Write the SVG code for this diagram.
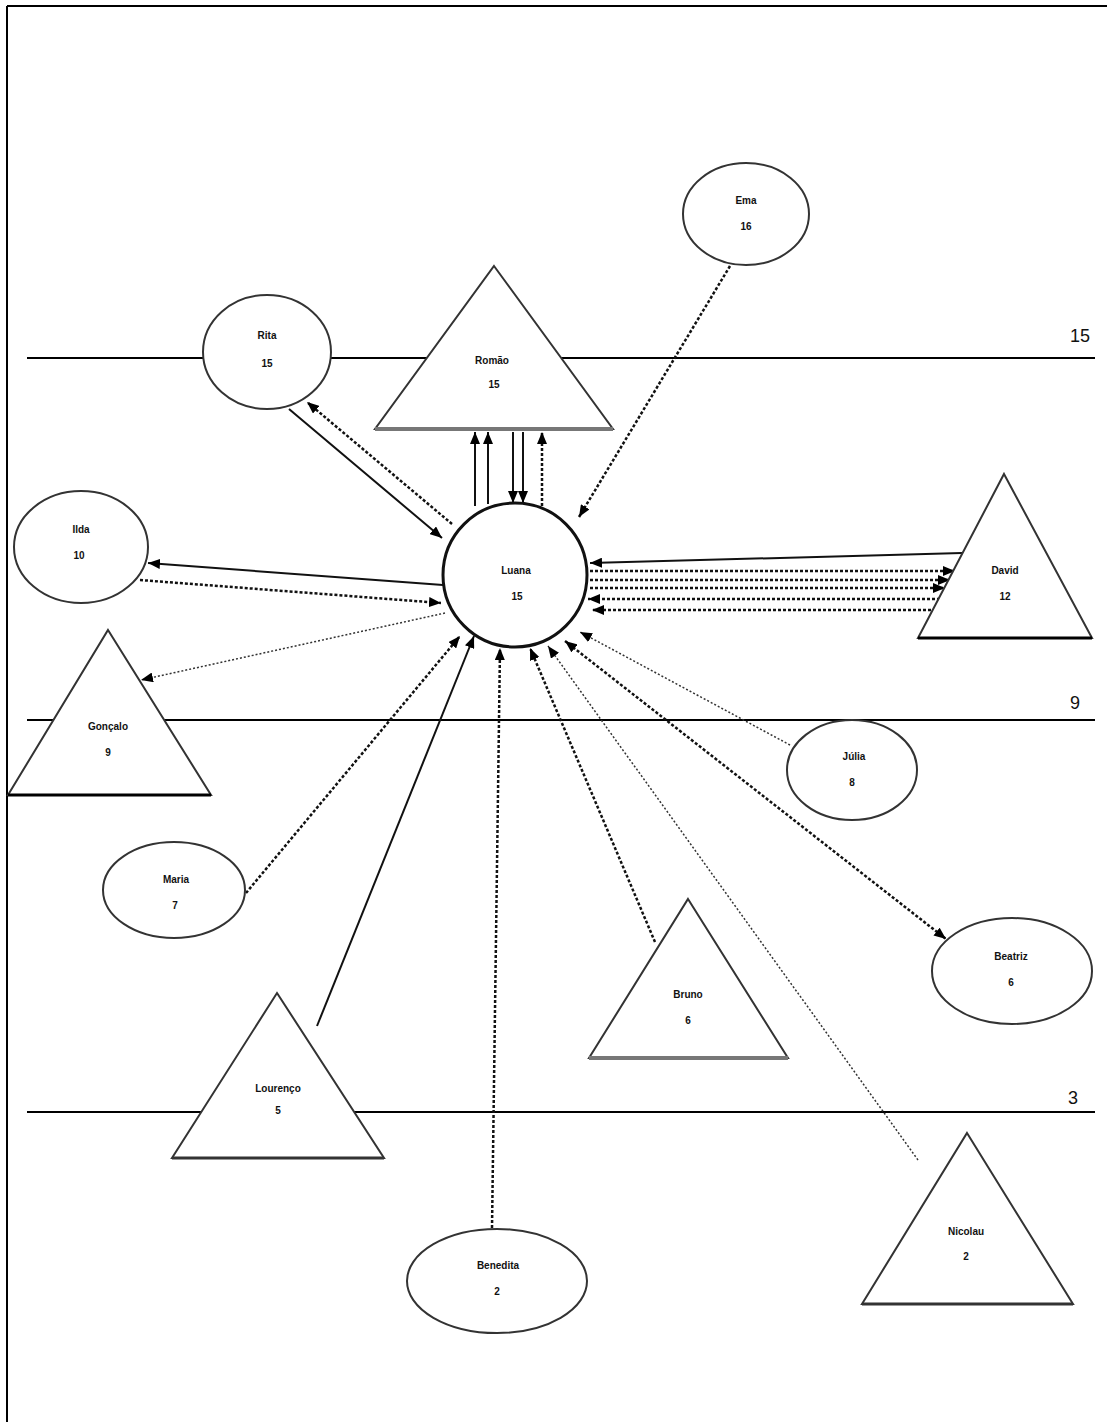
<svg xmlns="http://www.w3.org/2000/svg" width="1107" height="1422" viewBox="0 0 1107 1422">
<defs>
<marker id="ah" viewBox="0 0 12 10" refX="12" refY="5" markerWidth="12" markerHeight="10" markerUnits="userSpaceOnUse" orient="auto-start-reverse">
<path d="M0,0 L12,5 L0,10 Z" fill="#000"/>
</marker>
<style>
.node{fill:#fff;stroke:#333;stroke-width:2}
.main{fill:#fff;stroke:#111;stroke-width:3}
.lbl{font-family:"Liberation Sans",Arial,sans-serif;font-size:10px;font-weight:bold;fill:#111;text-anchor:middle}
.lvl{font-family:"Liberation Sans",Arial,sans-serif;font-size:18px;fill:#111;text-anchor:end}
.hl{stroke:#000;stroke-width:2}
.s{stroke:#111;stroke-width:2;fill:none;marker-end:url(#ah)}
.d{stroke:#111;stroke-width:2.5;stroke-dasharray:3 2;fill:none;marker-end:url(#ah)}
.t{stroke:#333;stroke-width:1.5;stroke-dasharray:2 2;fill:none;marker-end:url(#ah)}
</style>
</defs>
<rect width="1107" height="1422" fill="#fff"/>
<g id="frame">
<line x1="7" y1="6" x2="1107" y2="6" class="hl"/>
<line x1="7" y1="6" x2="7" y2="1422" class="hl"/>
</g>
<g id="levels">
<line x1="27" y1="358" x2="1095" y2="358" class="hl"/>
<text x="1090" y="342" class="lvl">15</text>
<line x1="27" y1="720" x2="1095" y2="720" class="hl"/>
<text x="1080" y="709" class="lvl">9</text>
<line x1="27" y1="1112" x2="1095" y2="1112" class="hl"/>
<text x="1078" y="1104" class="lvl">3</text>
</g>
<g id="connectors">
<line x1="730" y1="266" x2="579" y2="517" class="d"/>
<line x1="289" y1="409" x2="442" y2="538" class="s"/>
<line x1="452" y1="524" x2="307" y2="402" class="d"/>
<line x1="475" y1="506" x2="475" y2="432" class="s"/>
<line x1="488" y1="504" x2="488" y2="432" class="s"/>
<line x1="513" y1="432" x2="513" y2="503" class="s"/>
<line x1="523" y1="432" x2="523" y2="503" class="s"/>
<line x1="542" y1="506" x2="542" y2="432" class="d"/>
<line x1="443" y1="585" x2="148" y2="563" class="s"/>
<line x1="140" y1="580" x2="441" y2="603" class="d"/>
<line x1="445" y1="613" x2="141" y2="680" class="t"/>
<line x1="962" y1="553" x2="590" y2="563" class="s"/>
<line x1="590" y1="571" x2="955" y2="571" class="d"/>
<line x1="590" y1="580" x2="950" y2="580" class="d" marker-end="none"/>
<line x1="590" y1="588" x2="945" y2="588" class="d"/>
<line x1="940" y1="599" x2="588" y2="599" class="d"/>
<line x1="936" y1="610" x2="592" y2="610" class="d"/>
<line x1="790" y1="745" x2="580" y2="632" class="t"/>
<line x1="565" y1="641" x2="946" y2="939" class="d" marker-start="url(#ah)"/>
<line x1="655" y1="942" x2="530" y2="648" class="d"/>
<line x1="918" y1="1160" x2="548" y2="646" class="t"/>
<line x1="492" y1="1228" x2="500" y2="648" class="d"/>
<line x1="317" y1="1026" x2="474" y2="636" class="s"/>
<line x1="246" y1="893" x2="460" y2="636" class="d"/>
</g>
<g id="ema"><ellipse cx="746" cy="214" rx="63" ry="51" class="node"/><text x="746" y="204" class="lbl">Ema</text><text x="746" y="230" class="lbl">16</text></g>
<g id="rita"><ellipse cx="267" cy="352" rx="64" ry="57" class="node"/><text x="267" y="339" class="lbl">Rita</text><text x="267" y="367" class="lbl">15</text></g>
<g id="romao"><polygon points="494,266 613,429 375,429" class="node"/><line x1="375" y1="429" x2="613" y2="429" stroke="#777" stroke-width="4"/><text x="492" y="364" class="lbl">Romão</text><text x="494" y="388" class="lbl">15</text></g>
<g id="ilda"><ellipse cx="81" cy="547" rx="67" ry="56" class="node"/><text x="81" y="533" class="lbl">Ilda</text><text x="79" y="559" class="lbl">10</text></g>
<g id="luana"><circle cx="515" cy="575" r="72" class="main"/><text x="516" y="574" class="lbl">Luana</text><text x="517" y="600" class="lbl">15</text></g>
<g id="david"><polygon points="1004,474 1092,638 918,638" class="node"/><line x1="918" y1="638" x2="1092" y2="638" stroke="#000" stroke-width="3"/><text x="1005" y="574" class="lbl">David</text><text x="1005" y="600" class="lbl">12</text></g>
<g id="goncalo"><polygon points="108,630 211,795 8,795" class="node"/><line x1="8" y1="795" x2="211" y2="795" stroke="#000" stroke-width="3"/><text x="108" y="730" class="lbl">Gonçalo</text><text x="108" y="756" class="lbl">9</text></g>
<g id="maria"><ellipse cx="174" cy="890" rx="71" ry="48" class="node"/><text x="176" y="883" class="lbl">Maria</text><text x="175" y="909" class="lbl">7</text></g>
<g id="julia"><ellipse cx="852" cy="770" rx="65" ry="50" class="node"/><text x="854" y="760" class="lbl">Júlia</text><text x="852" y="786" class="lbl">8</text></g>
<g id="beatriz"><ellipse cx="1012" cy="971" rx="80" ry="53" class="node"/><text x="1011" y="960" class="lbl">Beatriz</text><text x="1011" y="986" class="lbl">6</text></g>
<g id="bruno"><polygon points="688,899 788,1058 589,1058" class="node"/><line x1="589" y1="1058" x2="788" y2="1058" stroke="#777" stroke-width="4"/><text x="688" y="998" class="lbl">Bruno</text><text x="688" y="1024" class="lbl">6</text></g>
<g id="lourenco"><polygon points="277,993 384,1158 172,1158" class="node"/><line x1="172" y1="1158" x2="384" y2="1158" stroke="#333" stroke-width="3"/><text x="278" y="1092" class="lbl">Lourenço</text><text x="278" y="1114" class="lbl">5</text></g>
<g id="benedita"><ellipse cx="497" cy="1281" rx="90" ry="52" class="node"/><text x="498" y="1269" class="lbl">Benedita</text><text x="497" y="1295" class="lbl">2</text></g>
<g id="nicolau"><polygon points="967,1133 1073,1304 862,1304" class="node"/><line x1="862" y1="1304" x2="1073" y2="1304" stroke="#333" stroke-width="3"/><text x="966" y="1235" class="lbl">Nicolau</text><text x="966" y="1260" class="lbl">2</text></g>
</svg>
